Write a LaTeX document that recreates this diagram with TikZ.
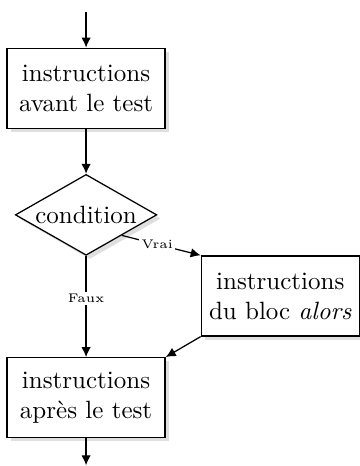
\documentclass[tikz,border=0pt]{standalone}
\usepackage{tikz}
\usetikzlibrary{arrows.meta,shapes.geometric,shadows}

\begin{document}
\begin{tikzpicture}[x=1cm,y=1cm]
 \tikzstyle{ombre} = [drop shadow={shadow xshift=1.5pt,shadow yshift=-1.5pt,fill=black!25}]
 \tikzstyle{bloc} = [draw,fill=white,line width=0.5pt,align=center,text width=58pt,inner xsep=2.6pt,minimum height=32pt,ombre]
 \tikzstyle{test} = [draw,fill=white,line width=0.5pt,diamond,aspect=1.75,inner sep=0.67pt,ombre]
 \tikzstyle{l} = [draw,-{Latex[length=4pt,width=3.8pt]},line width=0.5pt]
 \tikzstyle{e} = [fill=white,inner sep=1pt,font=\tiny]
 \useasboundingbox (0,0) rectangle (5.06,-6.55);
 \draw
 (1.21,-1.24) node[bloc] (Avant) {instructions\\avant le test}
 (Avant) ++(0,1.07) coordinate (Debut)
 (Avant) ++(0,-1.78) node[test] (Cond) {condition}
 (Cond) ++(2.73,-1.14) node[bloc] (Alors) {instructions\\du bloc \emph{alors}}
 (Cond) ++(0,-2.57) node[bloc] (Apres) {instructions\\après le test}
 (Apres) ++(0,-0.95) coordinate (Fin)
 ;
 \path [l] (Debut) -- (Avant);
 \path [l] (Avant) -- (Cond);
 \path [l] (Cond.south east) -- node[e,pos=0.45] {Vrai} (Alors.north west);
 \path [l] (Cond) -- node[e,pos=0.42] {Faux} (Apres);
 \path [l] (Alors.south west) -- (Apres.north east);
 \path [l] (Apres) -- (Fin);
\end{tikzpicture}
\end{document}
